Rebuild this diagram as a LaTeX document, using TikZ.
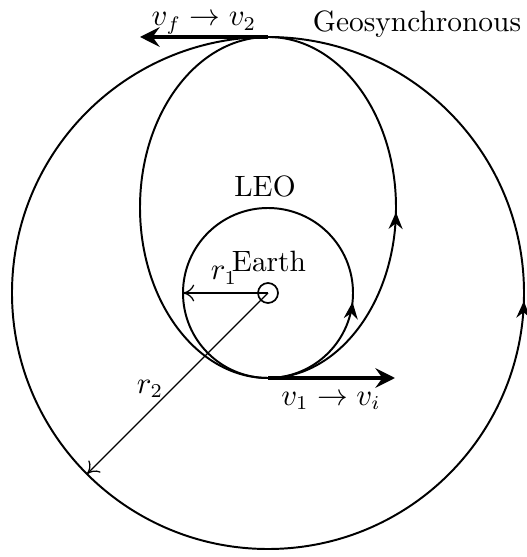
\documentclass[tikz,border=0pt]{standalone}
\usetikzlibrary{arrows.meta,decorations.markings}
\begin{document}
\begin{tikzpicture}[x=0.357pt,y=0.357pt,
  orbit/.style={line width=0.7pt},
  radius line/.style={line width=0.45pt,-{To[length=4pt,width=6pt]}},
  velocity/.style={line width=1.5pt,-{Stealth[length=7pt,width=7pt,inset=2.5pt]}},
  lbl/.style={inner sep=0pt,anchor=base,font=\fontsize{10.5}{12}\selectfont},
  flow/.style={decoration={markings,mark=at position #1 with {\arrow{Stealth[length=6pt,width=5pt,inset=2pt]}}},postaction={decorate}}]
\useasboundingbox (-268,-264) rectangle (258,293);
\coordinate (E) at (0,0);
\coordinate (L1) at (-85,0);
\coordinate (G2) at (225:256);
\coordinate (P) at (0,-85);
\coordinate (A) at (0,256);
\coordinate (Pend) at (127,-85);
\coordinate (Aend) at (-128,256);
% orbits
\draw[orbit,flow=0.995] (E) circle[radius=256];
\draw[orbit,flow=0.983] (E) circle[radius=85];
\draw[orbit,flow=0.995] (0,85.5) ellipse[x radius=128,y radius=170.5];
\draw[line width=0.6pt] (E) circle[radius=10];
% radii
\draw[radius line] (E) -- (L1);
\draw[radius line] (E) -- (G2);
% velocities
\draw[velocity] (A) -- (Aend);
\draw[velocity] (P) -- (Pend);
% labels
\node[lbl] (earth) at (1,21) {Earth};
\node[lbl] (leo) at (-3,96) {LEO};
\node[lbl] (geo) at (149,261) {Geosynchronous};
\node[lbl] (r1) at (-44,13) {$r_1$};
\node[lbl] (r2) at (-118,-100) {$r_2$};
\node[lbl] (vtop) at (-64,267) {$v_f\to v_2$};
\node[lbl] (vbot) at (63,-112) {$v_1\to v_i$};
\end{tikzpicture}
\end{document}
